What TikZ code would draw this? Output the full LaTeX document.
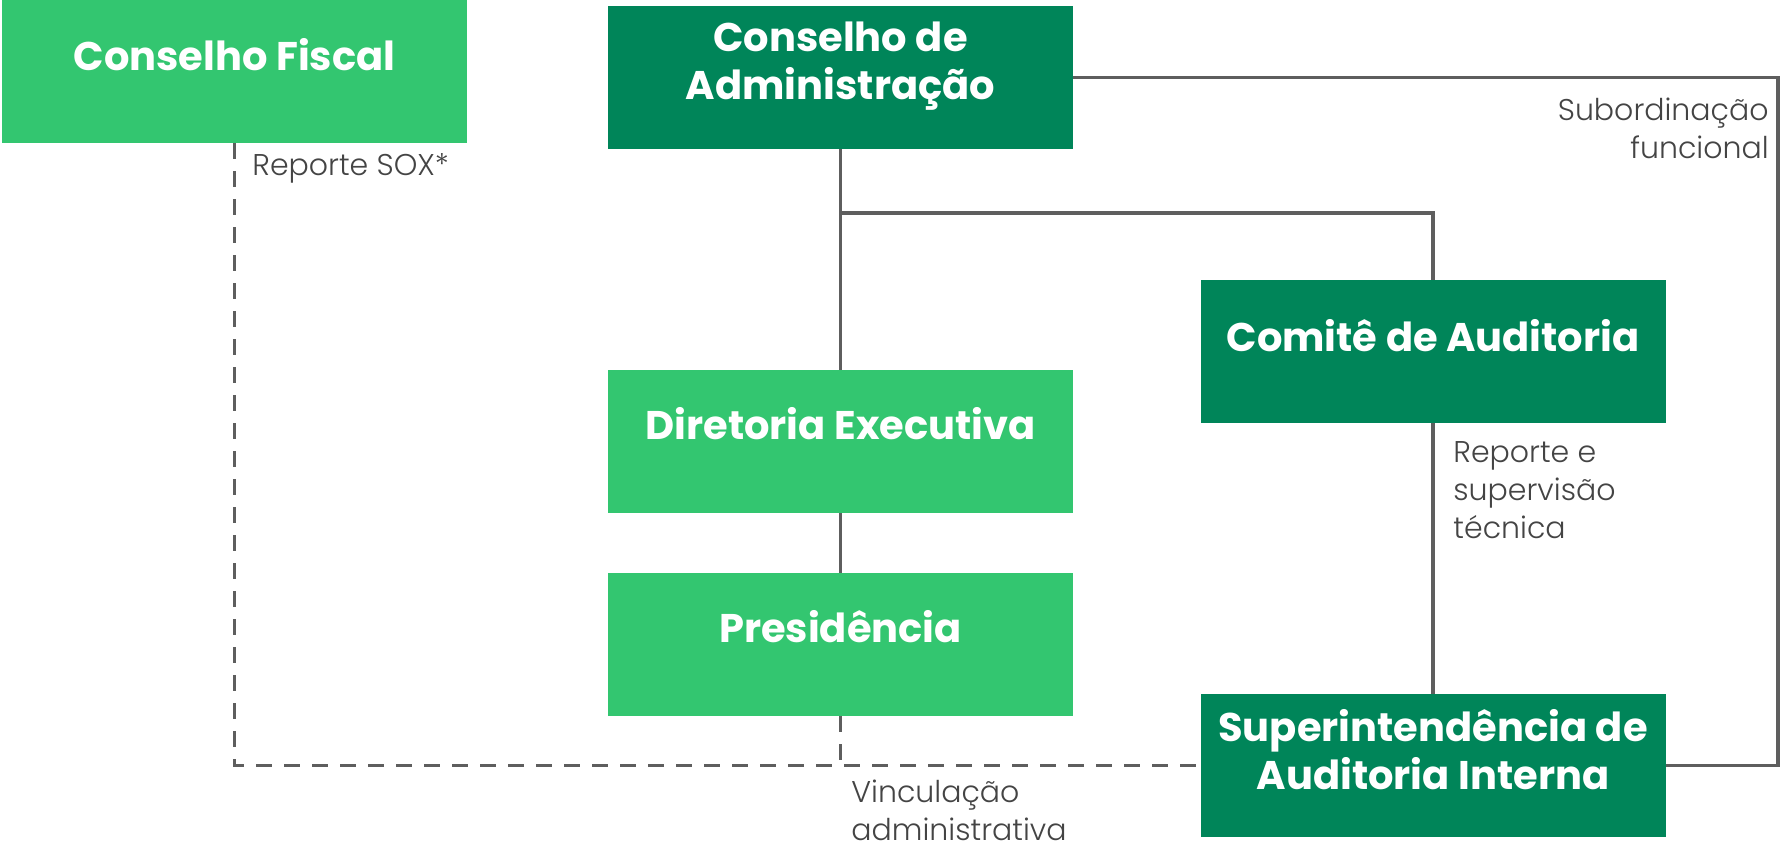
\documentclass[tikz,border=0pt]{standalone}
\usepackage{fontspec}
\setmainfont{Poppins}
\newfontfamily\lightfont{Poppins Light}
\usetikzlibrary{calc}
\definecolor{dkgreen}{RGB}{0,133,89}
\definecolor{ltgreen}{RGB}{51,198,112}
\definecolor{linegray}{RGB}{94,94,94}
\definecolor{labelgray}{RGB}{68,68,68}
\tikzset{
  box/.style={draw=none, minimum width=232.5pt, minimum height=71.5pt, inner sep=0pt},
  dkbox/.style={box, fill=dkgreen},
  ltbox/.style={box, fill=ltgreen},
  boxtext/.style={text=white, font=\bfseries\fontsize{20}{24}\selectfont, align=center, inner sep=0pt},
  lbl/.style={text=labelgray, font=\lightfont\fontsize{15}{19}\selectfont, inner sep=0pt},
  solidline/.style={draw=linegray, line width=1.7pt},
  dashline/.style={draw=linegray, line width=1.7pt, dash pattern=on 8pt off 6pt},
}
\begin{document}
\begin{tikzpicture}[x=0.5pt, y=-0.5pt]
\useasboundingbox (0,0) rectangle (1780,847);
% boxes
\node[ltbox] (cf) at (234.5,71.5) {};
\node[dkbox] (ca) at (840.5,77.5) {};
\node[dkbox] (cm) at (1433,351.5) {};
\node[ltbox] (de) at (840.5,441.5) {};
\node[ltbox] (pr) at (840.5,644.5) {};
\node[dkbox] (sup) at (1433,765.5) {};
% box texts
\node[boxtext] (cft) at ($(cf.north)+(0,55)$) {Conselho Fiscal};
\node[boxtext] (cat) at ($(ca.north)+(0,61)$) {Conselho de\\Administração};
\node[boxtext] (cmt) at ($(cm.north)+(0,56)$) {Comitê de Auditoria};
\node[boxtext] (det) at ($(de.north)+(0,54)$) {Diretoria Executiva};
\node[boxtext] (prt) at ($(pr.north)+(0,54)$) {Presidência};
\node[boxtext] (supt) at ($(sup.north)+(0,56)$) {Superintendência de\\Auditoria Interna};
% helper coordinates
\coordinate (br) at (840.5,213);
\coordinate (rc) at (1778,400);
% connectors
\draw[solidline] (ca.south) -- (de.north);
\draw[solidline] (de.south) -- (pr.north);
\draw[solidline] (br) -| (cm.north);
\draw[solidline] (cm.south) -- (sup.north);
\draw[solidline] (ca.east) -| (rc) |- (sup.east);
\draw[dashline] (cf.south) |- (sup.west);
\draw[dashline] (pr.south) -- (pr.south |- sup.west);
% labels
\node[lbl, anchor=west] (l1) at (252,168) {Reporte SOX*};
\node[lbl, anchor=east, align=right] (l2) at (1769,128) {Subordinação\\funcional};
\node[lbl, anchor=west, align=left] (l3) at (1453,490) {Reporte e\\supervisão\\técnica};
\node[lbl, anchor=west, align=left] (l4) at (851,810) {Vinculação\\administrativa};
\end{tikzpicture}
\end{document}
